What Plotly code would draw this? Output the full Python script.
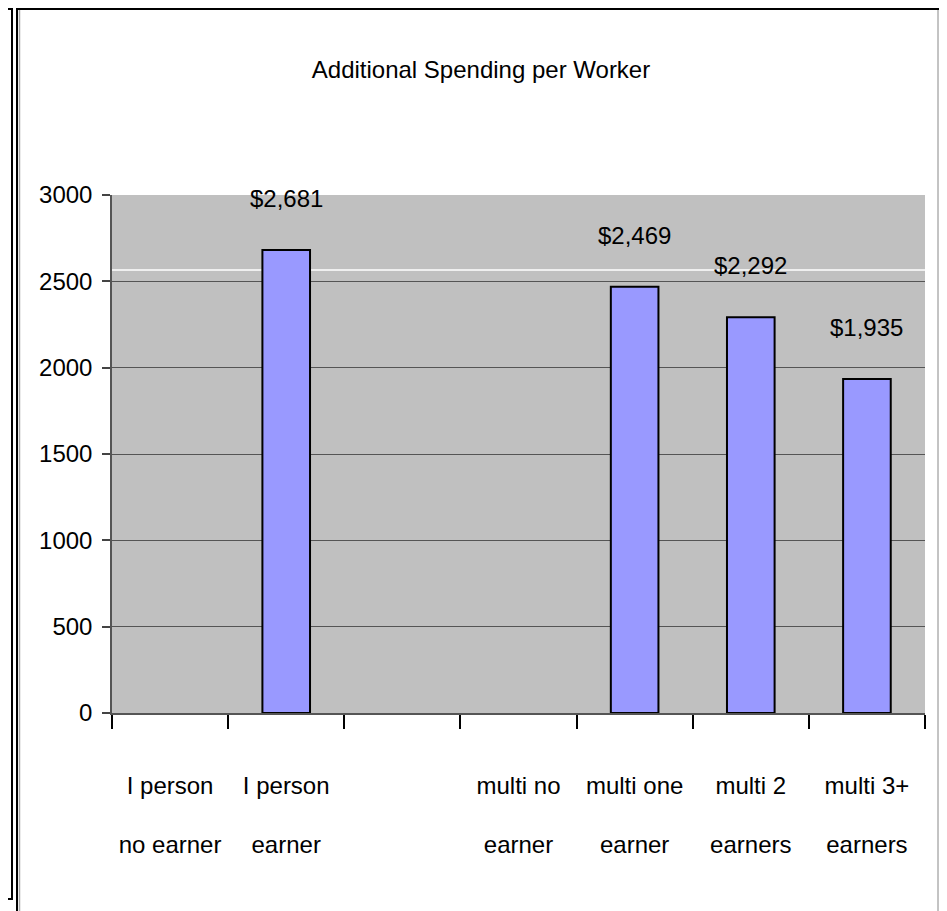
import plotly.graph_objects as go

# ---- data ----
categories = ["I person no earner", "I person earner", " ", "multi no earner",
              "multi one earner", "multi 2 earners", "multi 3+ earners"]
line1 = ["I person", "I person", "", "multi no", "multi one", "multi 2", "multi 3+"]
line2 = ["no earner", "earner", "", "earner", "earner", "earners", "earners"]
values = [None, 2681, None, None, 2469, 2292, 1935]
labels = ["", "$2,681", "", "", "$2,469", "$2,292", "$1,935"]
y_ticks = [0, 500, 1000, 1500, 2000, 2500, 3000]
title_text = "Additional Spending per Worker"

# page body has an 8px margin, so figure coords = page coords - 8
OFF = 8
W, H = 947 - OFF, 911 - OFF
L, R, T, B = 112 - OFF, 925 - OFF, 195 - OFF, 713 - OFF
FONT = "Liberation Sans Narrow, Arial Narrow, Liberation Sans, Arial, sans-serif"
FS = 24


def px_x(px):
    """page x pixel -> paper x"""
    return (px - OFF - L) / (R - L)


def px_y(py):
    """page y pixel -> paper y"""
    return (B - (py - OFF)) / (B - T)


fig = go.Figure()
fig.add_trace(go.Bar(
    x=categories, y=values, width=0.41,
    marker=dict(color="#9999FF", line=dict(color="#000000", width=2)),
    showlegend=False, hoverinfo="x+y",
))
# invisible trace carrying the second line of category labels
fig.add_trace(go.Scatter(
    x=categories, y=[None] * len(categories), xaxis="x2", yaxis="y",
    mode="markers", showlegend=False, hoverinfo="skip",
))

for c, v, t in zip(categories, values, labels):
    if t:
        fig.add_annotation(x=c, y=v, text=t, showarrow=False, yanchor="bottom",
                           yshift=36, font=dict(family=FONT, size=FS, color="#000"))

shapes = [
    # stray white line in the plot area
    dict(type="line", xref="paper", yref="y", x0=0, x1=1, y0=2565, y1=2565,
         line=dict(color="#FFFFFF", width=1.5), layer="below"),
    # main frame
    dict(type="rect", xref="paper", yref="paper", x0=px_x(17), x1=px_x(940),
         y0=px_y(930), y1=px_y(9), line=dict(color="#000000", width=2)),
    dict(type="line", xref="paper", yref="paper", x0=px_x(19.5), x1=px_x(19.5),
         y0=px_y(930), y1=px_y(10), line=dict(color="#AAAAAA", width=1.5)),
    dict(type="line", xref="paper", yref="paper", x0=px_x(938), x1=px_x(938),
         y0=px_y(930), y1=px_y(10), line=dict(color="#888888", width=1)),
    # left neighbouring frame
    dict(type="rect", xref="paper", yref="paper", x0=px_x(-10), x1=px_x(12),
         y0=px_y(899), y1=px_y(9), line=dict(color="#000000", width=2)),
]

fig.update_layout(
    width=W, height=H,
    margin=dict(l=L, r=W - R, t=T, b=H - B, pad=0, autoexpand=False),
    paper_bgcolor="#FFFFFF", plot_bgcolor="#C0C0C0",
    font=dict(family=FONT, size=FS, color="#000000"),
    title=dict(text=title_text, x=px_x(481), xref="paper", xanchor="center",
               y=1 - (70 - OFF) / H, yref="container", yanchor="middle",
               font=dict(family=FONT, size=FS, color="#000")),
    shapes=shapes,
    xaxis=dict(type="category", categoryorder="array", categoryarray=categories,
               range=[-0.5, 6.5], tickson="boundaries", ticks="outside",
               ticklen=14, tickcolor="#000", tickwidth=1.5,
               tickmode="array", tickvals=categories, ticktext=line1,
               tickangle=0, automargin=False,
               showline=True, linecolor="#555555", linewidth=1.5,
               showgrid=False, zeroline=False, ticklabelstandoff=50,
               tickfont=dict(family=FONT, size=FS)),
    xaxis2=dict(type="category", categoryorder="array", categoryarray=categories,
                range=[-0.5, 6.5], overlaying="x", anchor="y", side="bottom",
                tickmode="array", tickvals=categories, ticktext=line2,
                tickangle=0, automargin=False,
                ticks="", showline=False, showgrid=False, zeroline=False,
                ticklabelstandoff=115, tickfont=dict(family=FONT, size=FS)),
    yaxis=dict(range=[0, 3000], tickmode="array", tickvals=y_ticks,
               ticks="outside", ticklen=8, tickcolor="#444", tickwidth=1.5,
               automargin=False,
               showline=True, linecolor="#555555", linewidth=1.5,
               showgrid=True, gridcolor="#555555", gridwidth=1,
               zeroline=False, ticklabelstandoff=5,
               tickfont=dict(family=FONT, size=FS)),
)

fig.write_html("out.html")
